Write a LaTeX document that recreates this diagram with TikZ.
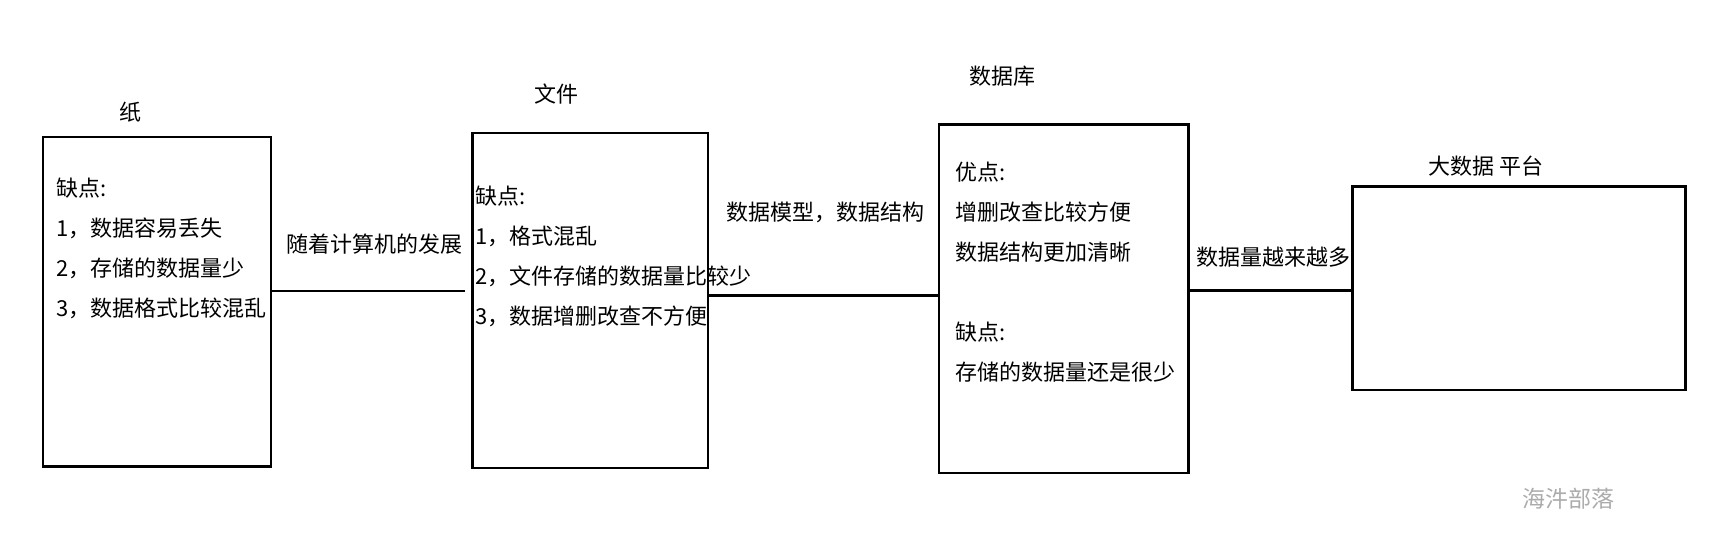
\documentclass[tikz,border=0pt]{standalone}
\usepackage{fontspec}
\setmainfont{Noto Sans CJK SC}
\begin{document}
\begin{tikzpicture}[x=1pt,y=-1pt,
  box/.style={draw=black,line width=2.7pt,inner sep=0pt,outer sep=0pt,rectangle},
  conn/.style={draw=black,line width=2.7pt},
  txt/.style={anchor=base west,inner sep=0pt,font=\fontsize{22}{26}\selectfont},
  ttl/.style={anchor=base,inner sep=0pt,font=\fontsize{22}{26}\selectfont},
  wm/.style={anchor=base,inner sep=0pt,text=black!33,font=\fontsize{23}{27}\selectfont}]
\useasboundingbox (0,0) rectangle (1715,547);
% boxes
\node[box,minimum width=228,minimum height=329.5] (b1) at (157,301.7) {};
\node[box,minimum width=235.7,minimum height=335] (b2) at (590.2,300.5) {};
\node[box,minimum width=249.7,minimum height=348.3] (b3) at (1063.8,298.8) {};
\node[box,minimum width=333,minimum height=203.3] (b4) at (1518.8,288.3) {};
% titles
\node[ttl] (t1) at (130,120.1) {纸};
\node[ttl] (t2) at (556,102.1) {文件};
\node[ttl] (t3) at (1002.5,84.2) {数据库};
\node[ttl] (t4) at (1486,174.2) {大数据 平台};
% box 1 text
\node[txt] (p0) at (56.5,196.7) {缺点:};
\node[txt] (p1) at (56.5,236.7) {1，数据容易丢失};
\node[txt] (p2) at (56.5,276.7) {2，存储的数据量少};
\node[txt] (p3) at (56.5,316.7) {3，数据格式比较混乱};
% box 2 text
\node[txt] (f0) at (475.2,204.2) {缺点:};
\node[txt] (f1) at (475.2,244.2) {1，格式混乱};
\node[txt] (f2) at (475.2,284.2) {2，文件存储的数据量比较少};
\node[txt] (f3) at (475.2,324.6) {3，数据增删改查不方便};
% box 3 text
\node[txt] (d0) at (955,180.1) {优点:};
\node[txt] (d1) at (955,220.1) {增删改查比较方便};
\node[txt] (d2) at (955,260.1) {数据结构更加清晰};
\node[txt] (d3) at (955,340.1) {缺点:};
\node[txt] (d4) at (955,380.1) {存储的数据量还是很少};
% connector labels
\node[txt] (l1) at (286,252.1) {随着计算机的发展};
\node[txt] (l2) at (726.5,220.1) {数据模型，数据结构};
\node[txt] (l3) at (1196.5,265.7) {数据量越来越多};
% connectors
\coordinate (c1) at (465,291);
\coordinate (c2) at (0,295.2);
\coordinate (c3) at (0,290.5);
\draw[conn] (b1.east |- c1) -- (c1);
\draw[conn] (b2.east |- c2) -- (b3.west |- c2);
\draw[conn] (b3.east |- c3) -- (b4.west |- c3);
% watermark
\node[wm] (w) at (1568.5,507.8) {海汼部落};
\end{tikzpicture}
\end{document}
